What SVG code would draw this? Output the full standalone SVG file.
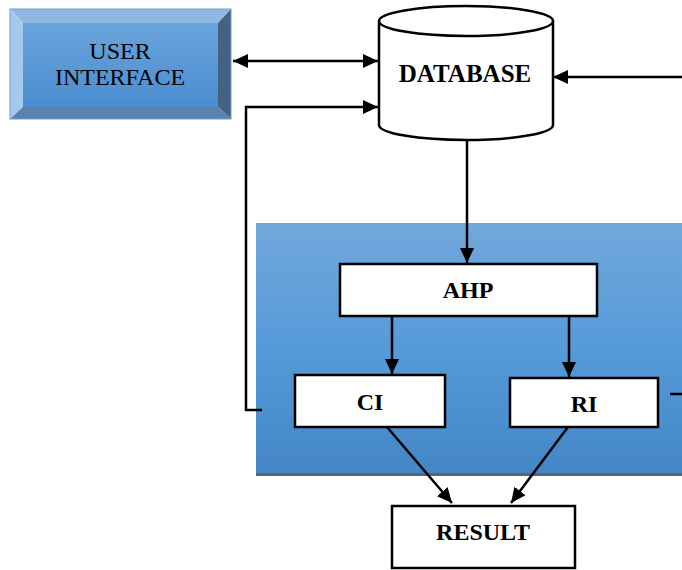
<svg xmlns="http://www.w3.org/2000/svg" width="682" height="570" viewBox="0 0 682 570">
  <defs>
    <linearGradient id="faceGrad" x1="0" y1="0" x2="0" y2="1">
      <stop offset="0" stop-color="#6ba4dc"/>
      <stop offset="1" stop-color="#4a8dd0"/>
    </linearGradient>
    <linearGradient id="panelGrad" x1="0" y1="0" x2="0" y2="1">
      <stop offset="0" stop-color="#72a8dc"/>
      <stop offset="0.5" stop-color="#559ad9"/>
      <stop offset="1" stop-color="#4486c6"/>
    </linearGradient>
    <marker id="arrow" markerUnits="userSpaceOnUse" markerWidth="16" markerHeight="14" refX="15" refY="7" orient="auto-start-reverse">
      <path d="M0,0 L15,7 L0,14 Z" fill="#000"/>
    </marker>
  </defs>
  <style>
    .line { fill: none; stroke: #000; stroke-width: 2.5; }
    .box { fill: #fff; stroke: #000; stroke-width: 2.5; }
    .lbl { font-family: "Liberation Serif", "Times New Roman", serif; font-size: 24px; font-weight: bold; text-anchor: middle; fill: #000; }
    .ui { font-family: "Liberation Serif", "Times New Roman", serif; font-size: 24px; text-anchor: middle; fill: #000; }
  </style>

  <rect width="682" height="570" fill="#fff"/>

  <!-- processing panel -->
  <g id="panel">
    <rect x="256" y="473" width="426" height="3" fill="#5b6470"/>
    <rect x="256" y="223" width="426" height="250" fill="url(#panelGrad)"/>
  </g>

  <!-- bevelled user interface button -->
  <g id="user-interface">
    <polygon points="10,9 231,9 218,23 23,23" fill="#8fb9e2"/>
    <polygon points="10,9 23,23 23,107 10,119" fill="#a6c8ec"/>
    <polygon points="231,9 231,119 218,107 218,23" fill="#456282"/>
    <polygon points="10,119 23,107 218,107 231,119" fill="#5b82aa"/>
    <rect x="23" y="23" width="195" height="84" fill="url(#faceGrad)"/>
    <rect x="10" y="9" width="221" height="110" fill="none" stroke="#6f9fd0" stroke-width="1"/>
    <text class="ui" x="120" y="59">USER</text>
    <text class="ui" x="120" y="85">INTERFACE</text>
  </g>

  <!-- database cylinder -->
  <g id="database">
    <path class="box" d="M379,21 L379,125 A87,15 0 0 0 553,125 L553,21"/>
    <ellipse class="box" cx="466" cy="21" rx="87" ry="15"/>
    <text class="lbl" x="465" y="82" style="font-size:25px">DATABASE</text>
  </g>

  <g id="ahp">
    <rect class="box" x="340" y="264" width="257" height="52"/>
    <text class="lbl" x="468" y="298">AHP</text>
  </g>

  <g id="ci">
    <rect class="box" x="295" y="375" width="150" height="52"/>
    <text class="lbl" x="370" y="410">CI</text>
  </g>

  <g id="ri">
    <rect class="box" x="510" y="378" width="148" height="49"/>
    <text class="lbl" x="584" y="412">RI</text>
  </g>

  <g id="result">
    <rect class="box" x="392" y="506" width="183" height="62"/>
    <text class="lbl" x="483" y="540">RESULT</text>
  </g>

  <!-- connectors -->
  <g id="connectors">
    <line class="line" x1="233" y1="61" x2="378" y2="61" marker-start="url(#arrow)" marker-end="url(#arrow)"/>
    <line class="line" x1="682" y1="77" x2="553" y2="77" marker-end="url(#arrow)"/>
    <polyline class="line" points="262,410 246,410 246,107 378,107" marker-end="url(#arrow)"/>
    <line class="line" x1="467" y1="140" x2="467" y2="263" marker-end="url(#arrow)"/>
    <line class="line" x1="392" y1="316" x2="392" y2="374" marker-end="url(#arrow)"/>
    <line class="line" x1="569" y1="316" x2="569" y2="377" marker-end="url(#arrow)"/>
    <line class="line" x1="670" y1="394" x2="682" y2="394"/>
    <line class="line" x1="387" y1="427" x2="452" y2="503" marker-end="url(#arrow)"/>
    <line class="line" x1="568" y1="427" x2="511" y2="503" marker-end="url(#arrow)"/>
  </g>
</svg>
